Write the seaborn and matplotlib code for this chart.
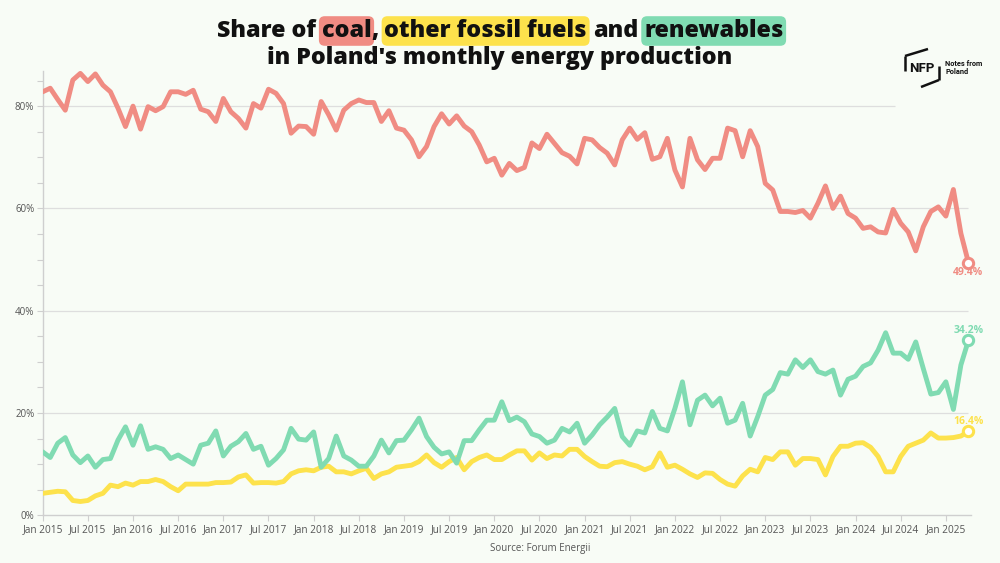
import numpy as np
import pandas as pd
import matplotlib
matplotlib.use("Agg")
import matplotlib.pyplot as plt
import seaborn as sns
from matplotlib.lines import Line2D

# ---------------- data (monthly, Jan 2015 .. Apr 2025) ----------------
coal = [82.8, 83.5, 81.3, 79.2, 85.1, 86.4, 84.8, 86.3, 84.1, 82.8, 79.6, 76.0,
        80.0, 75.5, 79.9, 79.1, 79.9, 82.8, 82.8, 82.3, 83.1, 79.4, 78.9, 77.0,
        81.5, 78.9, 77.6, 75.7, 80.5, 79.6, 83.3, 82.5, 80.5, 74.7, 76.1, 76.0,
        74.5, 80.9, 78.3, 75.3, 79.2, 80.5, 81.2, 80.7, 80.7, 77.0, 79.1, 75.7,
        75.3, 73.4, 70.1, 72.1, 76.0, 78.5, 76.5, 78.1, 76.1, 75.0, 72.4, 69.1,
        69.8, 66.5, 68.8, 67.4, 68.0, 72.8, 71.7, 74.5, 72.7, 70.9, 70.2, 68.7,
        73.7, 73.4, 71.9, 70.8, 68.5, 73.4, 75.7, 73.5, 74.8, 69.6, 70.1, 73.7,
        67.5, 64.2, 73.7, 69.5, 67.6, 69.8, 69.8, 75.7, 75.2, 70.1, 75.2, 72.1,
        64.9, 63.6, 59.4, 59.4, 59.2, 59.6, 58.1, 61.0, 64.4, 60.0, 62.4, 59.0,
        58.1, 56.1, 56.4, 55.4, 55.2, 59.8, 57.1, 55.4, 51.7, 56.4, 59.4, 60.3,
        58.5, 63.7, 55.1, 49.4]

other_fossil = [4.3, 4.5, 4.7, 4.6, 2.9, 2.7, 2.9, 3.8, 4.3, 5.9, 5.6, 6.3,
                5.9, 6.6, 6.6, 7.0, 6.6, 5.6, 4.8, 6.1, 6.1, 6.1, 6.1, 6.4,
                6.4, 6.5, 7.5, 7.9, 6.3, 6.4, 6.4, 6.3, 6.6, 8.1, 8.7, 8.9,
                8.7, 9.4, 9.6, 8.5, 8.5, 8.1, 8.7, 9.2, 7.2, 8.1, 8.5, 9.4,
                9.6, 9.8, 10.5, 11.8, 10.3, 9.4, 10.5, 11.3, 8.9, 10.5, 11.3, 11.8,
                10.9, 10.9, 11.8, 12.6, 12.6, 10.8, 12.2, 11.1, 11.8, 11.6, 12.9, 12.9,
                11.5, 10.5, 9.6, 9.5, 10.3, 10.5, 10.0, 9.6, 8.9, 9.5, 12.2, 9.4,
                9.8, 9.0, 8.1, 7.4, 8.3, 8.2, 7.0, 6.1, 5.7, 7.7, 9.0, 8.5,
                11.3, 10.9, 12.4, 12.4, 9.8, 11.1, 11.1, 10.9, 7.9, 11.5, 13.5, 13.5,
                14.1, 14.2, 13.3, 11.5, 8.5, 8.5, 11.5, 13.5, 14.1, 14.7, 16.1, 15.1,
                15.1, 15.2, 15.5, 16.4]

renewables = [12.4, 11.3, 14.1, 15.2, 11.8, 10.3, 11.6, 9.4, 10.9, 11.1, 14.7, 17.3,
              13.7, 17.5, 12.9, 13.4, 12.9, 11.1, 11.8, 10.9, 10.0, 13.7, 14.1, 16.5,
              11.6, 13.5, 14.4, 16.0, 12.9, 13.5, 9.8, 11.1, 12.8, 17.0, 14.9, 14.7,
              16.3, 9.4, 11.1, 15.5, 11.6, 10.8, 9.6, 9.6, 11.6, 14.7, 12.2, 14.6,
              14.7, 16.7, 19.0, 15.4, 13.3, 12.0, 12.4, 10.2, 14.6, 14.6, 16.7, 18.6,
              18.6, 22.2, 18.5, 19.2, 18.3, 15.9, 15.4, 14.1, 14.7, 17.0, 16.3, 18.0,
              14.1, 15.7, 17.7, 19.2, 20.9, 15.4, 13.7, 16.5, 16.1, 20.3, 17.0, 16.5,
              20.9, 26.1, 17.7, 22.5, 23.5, 21.4, 22.9, 18.0, 18.6, 21.9, 15.5, 19.3,
              23.5, 24.6, 27.9, 27.6, 30.4, 28.9, 30.4, 28.1, 27.6, 28.4, 23.5, 26.6,
              27.2, 29.1, 29.8, 32.3, 35.7, 31.7, 31.7, 30.5, 33.9, 28.7, 23.7, 24.0,
              26.1, 20.7, 29.4, 34.2]

months = list(range(len(coal)))
series_names = ["coal", "other fossil fuels", "renewables"]
tick_months = [0, 6, 12, 18, 24, 30, 36, 42, 48, 54, 60, 66, 72, 78, 84, 90,
               96, 102, 108, 114, 120]
tick_labels = ["Jan 2015", "Jul 2015", "Jan 2016", "Jul 2016", "Jan 2017", "Jul 2017",
               "Jan 2018", "Jul 2018", "Jan 2019", "Jul 2019", "Jan 2020", "Jul 2020",
               "Jan 2021", "Jul 2021", "Jan 2022", "Jul 2022", "Jan 2023", "Jul 2023",
               "Jan 2024", "Jul 2024", "Jan 2025"]
y_ticks = [0, 20, 40, 60, 80]
y_tick_labels = ["0%", "20%", "40%", "60%", "80%"]

# ---------------- style ----------------
BG = "#f8fcf6"
COLORS = {"coal": "#f08c83", "other fossil fuels": "#fde24c", "renewables": "#80dbb2"}
GRID = "#dedede"
TXT = "#555555"

sns.set_theme(style="white")
plt.rcParams["font.family"] = ["Open Sans", "DejaVu Sans"]

fig = plt.figure(figsize=(10, 5.63), dpi=100, facecolor=BG)
ax = fig.add_axes([0.0427, 0.0847, 0.928, 0.7886], facecolor=BG)

df = pd.DataFrame({
    "month": months * 3,
    "share": coal + other_fossil + renewables,
    "series": [series_names[0]] * len(coal) + [series_names[1]] * len(other_fossil)
              + [series_names[2]] * len(renewables),
})

XMAX = 123.3
YMAX = 86.8
ax.set_xlim(0, XMAX)
ax.set_ylim(0, YMAX)

# gridlines
for yv in y_ticks[1:]:
    xend = 113.3 if yv == 80 else len(coal) - 1
    ax.hlines(yv, 0, xend, color=GRID, lw=0.9, zorder=1)

sns.lineplot(data=df, x="month", y="share", hue="series", hue_order=series_names,
             palette=COLORS, linewidth=3.5, legend=False, ax=ax, zorder=3,
             solid_capstyle="round", solid_joinstyle="round")

# end markers + labels
ends = [("coal", coal, -10), ("other fossil fuels", other_fossil, 10), ("renewables", renewables, 10)]
for name, vals, off in ends:
    ax.scatter([months[-1]], [vals[-1]], s=55, facecolor="white", edgecolor=COLORS[name],
               linewidth=2.2, zorder=5, clip_on=False)
    ax.annotate(f"{vals[-1]:.1f}%", (months[-1], vals[-1]), xytext=(0, off * 0.72),
                textcoords="offset points", ha="center", va="center",
                color=COLORS[name], fontsize=7.5, fontweight="bold", zorder=6,
                annotation_clip=False)

# axes styling
for s in ["top", "right"]:
    ax.spines[s].set_visible(False)
for s in ["left", "bottom"]:
    ax.spines[s].set_color("#cfcfcf")
    ax.spines[s].set_linewidth(1.0)
ax.set_xticks(tick_months)
ax.set_xticklabels(tick_labels)
ax.set_yticks(y_ticks)
ax.set_yticklabels(y_tick_labels)
ax.set_yticks(np.arange(0, 86, 5), minor=True)
ax.tick_params(axis="x", length=4, width=0.8, color="#cfcfcf", labelsize=7.3,
               labelcolor=TXT, pad=2, bottom=True)
ax.tick_params(axis="y", which="both", length=4, width=0.8, color="#cfcfcf",
               labelsize=7, labelcolor=TXT, pad=2, left=True)
ax.set_xlabel("")
ax.set_ylabel("")
ax.grid(False)

# ---------------- title with highlighted words ----------------
fig.canvas.draw()
renderer = fig.canvas.get_renderer()
W, H = fig.bbox.width, fig.bbox.height
TW = 800

def text_width(s, size):
    t = fig.text(0, 0, s, fontsize=size, fontweight=TW)
    w = t.get_window_extent(renderer).width
    t.remove()
    return w

base = 16
line2 = "in Poland's monthly energy production"
fs = base * 467.0 / text_width(line2, base)

pieces = [("Share of", None), (" ", None), ("coal", COLORS["coal"]), (",", None), (" ", None),
          ("other fossil fuels", COLORS["other fossil fuels"]), (" ", None), ("and", None),
          (" ", None), ("renewables", COLORS["renewables"])]
space_w = text_width("a a", fs) - text_width("aa", fs)
widths = [space_w if p == " " else text_width(p, fs) for p, _ in pieces]
total = sum(widths)
x = (W - total) / 2.0
y1 = 1 - 31 / 563.0
for (p, col), w in zip(pieces, widths):
    if p != " ":
        kw = {}
        if col is not None:
            kw["bbox"] = dict(boxstyle="round,pad=0.12,rounding_size=0.25", fc=col, ec="none")
        fig.text(x / W, y1, p, fontsize=fs, fontweight=TW, color="#111111",
                 ha="left", va="center", **kw)
    x += w

fig.text(0.5, 1 - 58 / 563.0, line2, fontsize=fs, fontweight=TW, color="#111111",
         ha="center", va="center")

# ---------------- logo ----------------
def fx(px):
    return px / 1000.0

def fy(py):
    return 1 - py / 563.0

for xs, ys in [([905, 905], [56, 71]), ([905, 928], [56, 49]),
               ([939, 939], [66, 80]), ([939, 921], [80, 87])]:
    fig.add_artist(Line2D([fx(v) for v in xs], [fy(v) for v in ys],
                          transform=fig.transFigure, color="#111111", lw=1.8,
                          solid_capstyle="butt"))
fig.text(fx(922), fy(68), "NFP", fontsize=9.5, fontweight="bold", color="#111111",
         ha="center", va="center", family=["Roboto", "DejaVu Sans"])
fig.text(fx(945), fy(68), "Notes from\nPoland", fontsize=5.3, fontweight="bold",
         color="#111111", ha="left", va="center", linespacing=1.05,
         family=["Roboto", "DejaVu Sans"])

# source
fig.text(0.54, 1 - 548 / 563.0, "Source: Forum Energii", fontsize=7, color=TXT,
         ha="center", va="center")

fig.savefig("out.png", dpi=100, facecolor=BG)
